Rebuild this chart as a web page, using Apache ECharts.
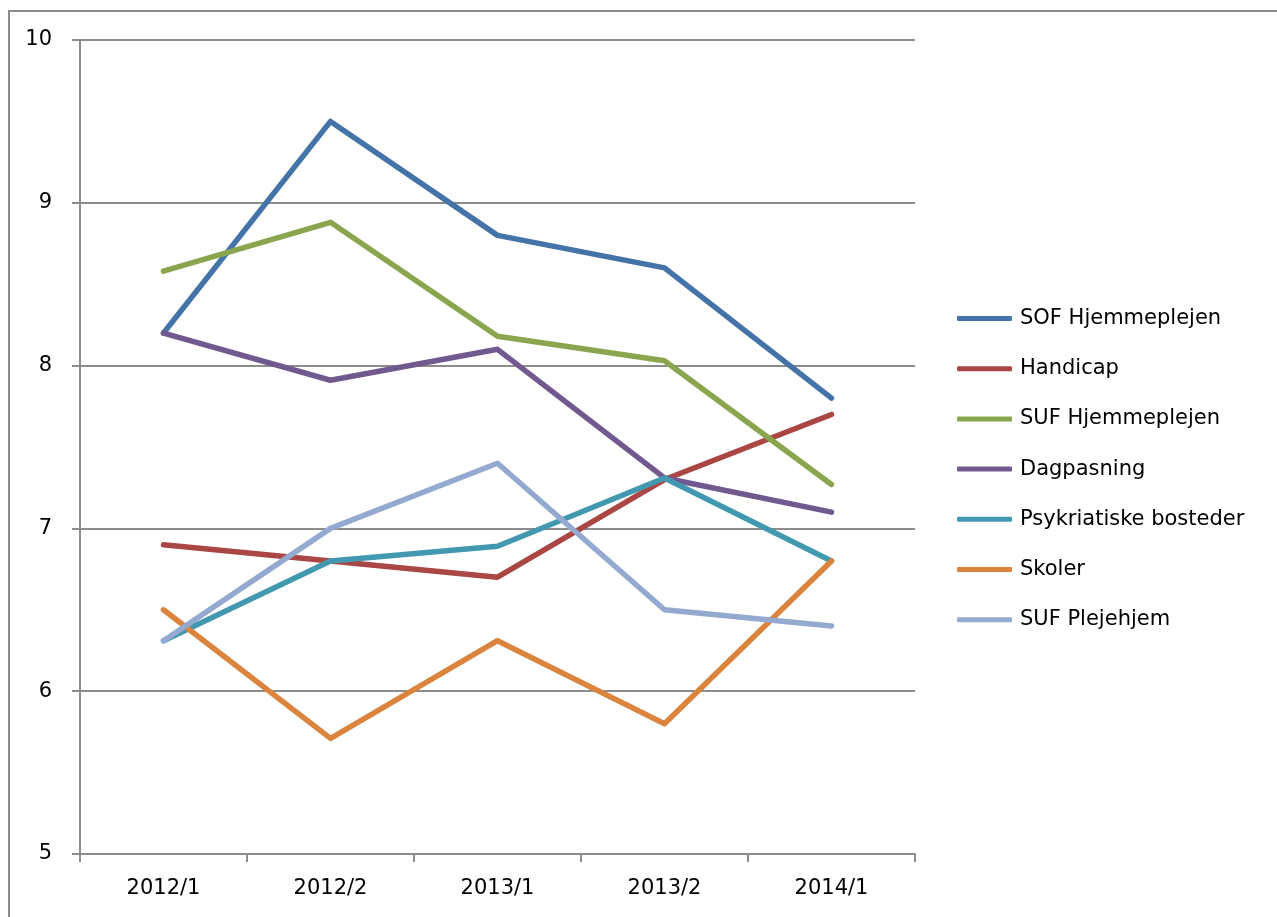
<!DOCTYPE html>
<html>
<head>
<meta charset="utf-8">
<script src="https://cdn.jsdelivr.net/npm/echarts@6/dist/echarts.min.js"></script>
<style>
  html, body { margin: 0; padding: 0; background: #fff; }
  #chart { width: 1277px; height: 917px; }
</style>
</head>
<body>
<div id="chart"></div>
<script>
var categories = ['2012/1', '2012/2', '2013/1', '2013/2', '2014/1'];

var sofHjemmeplejen = [8.2, 9.5, 8.8, 8.6, 7.8];
var handicap = [6.9, 6.8, 6.7, 7.3, 7.7];
var sufHjemmeplejen = [8.58, 8.88, 8.18, 8.03, 7.27];
var dagpasning = [8.2, 7.91, 8.1, 7.31, 7.1];
var psykriatiskeBosteder = [6.31, 6.8, 6.89, 7.31, 6.8];
var skoler = [6.5, 5.71, 6.31, 5.8, 6.8];
var sufPlejehjem = [6.31, 7.0, 7.4, 6.5, 6.4];

var seriesNames = ['SOF Hjemmeplejen', 'Handicap', 'SUF Hjemmeplejen', 'Dagpasning',
  'Psykriatiske bosteder', 'Skoler', 'SUF Plejehjem'];
var seriesValues = [sofHjemmeplejen, handicap, sufHjemmeplejen, dagpasning,
  psykriatiskeBosteder, skoler, sufPlejehjem];
var colors = ['#4473A8', '#AA4643', '#89A54E', '#71588F', '#4198AF', '#DB843D', '#93A9CF'];

var font = 'DejaVu Sans, sans-serif';
var chart = echarts.init(document.getElementById('chart'));

var series = seriesNames.map(function(name, i) {
  return {
    name: name,
    type: 'line',
    data: seriesValues[i],
    symbol: 'none',
    lineStyle: { width: 5.5, color: colors[i], cap: 'round', join: 'round' },
    itemStyle: { color: colors[i] }
  };
});

chart.setOption({
  animation: false,
  color: colors,
  graphic: [{
    type: 'rect',
    shape: { x: 9, y: 11, width: 1320, height: 960 },
    style: { fill: null, stroke: '#8c8c8c', lineWidth: 2 },
    silent: true
  }],
  grid: { left: 80, right: 362, top: 40, bottom: 63 },
  legend: {
    orient: 'vertical',
    left: 952,
    top: 303,
    itemWidth: 55,
    itemHeight: 5,
    itemGap: 29.2,
    icon: 'roundRect',
    textStyle: { fontFamily: font, fontSize: 21, color: '#000', lineHeight: 20, padding: [0, 0, 0, 3] },
    data: seriesNames
  },
  xAxis: {
    type: 'category',
    data: categories,
    boundaryGap: true,
    axisLine: { lineStyle: { color: '#8c8c8c', width: 2 } },
    axisTick: { show: true, length: 8, lineStyle: { color: '#8c8c8c', width: 2 } },
    axisLabel: { fontFamily: font, fontSize: 21, color: '#000', margin: 24 }
  },
  yAxis: {
    type: 'value',
    min: 5,
    max: 10,
    interval: 1,
    axisLine: { show: true, lineStyle: { color: '#8c8c8c', width: 2 } },
    axisTick: { show: true, length: 8, lineStyle: { color: '#8c8c8c', width: 2 } },
    splitLine: { lineStyle: { color: '#8c8c8c', width: 2 } },
    axisLabel: { fontFamily: font, fontSize: 21, color: '#000', margin: 28 }
  },
  series: series
});
</script>
</body>
</html>
